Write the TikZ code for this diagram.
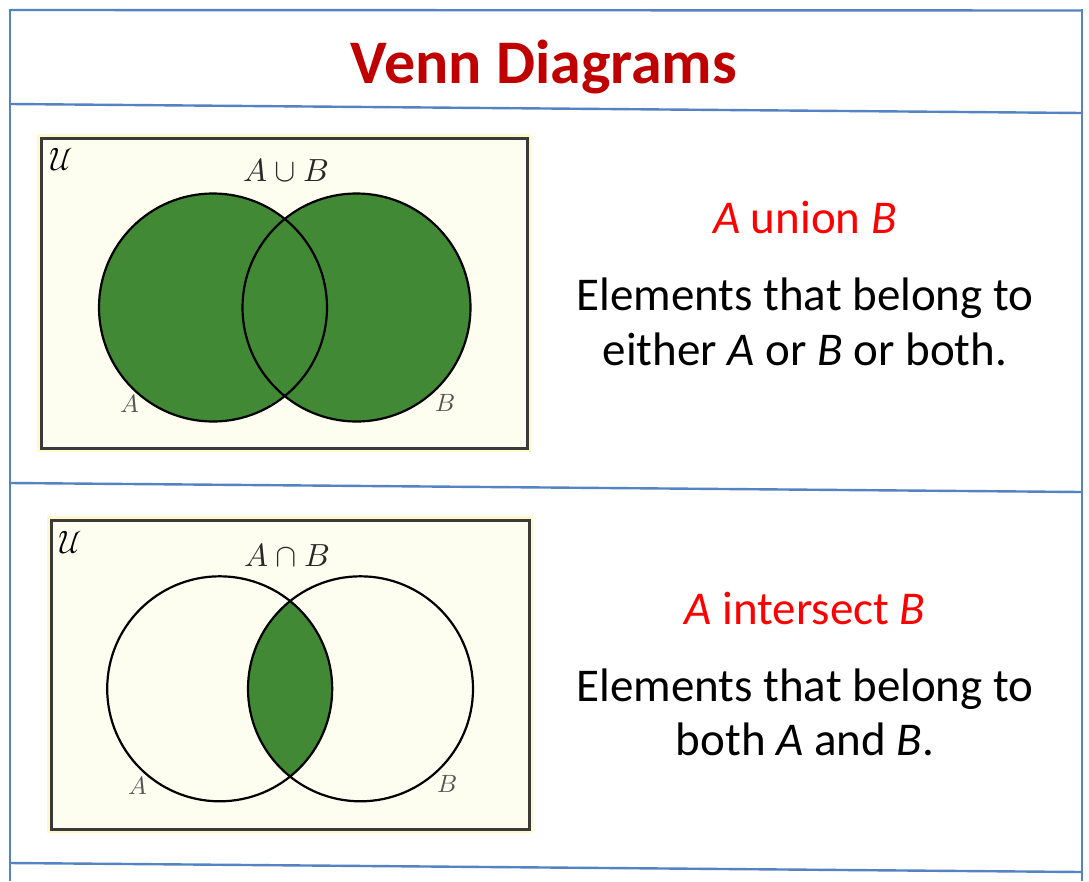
\documentclass[tikz,border=0pt]{standalone}
\usepackage{fontspec}
\setmainfont{Carlito}
\usepackage{unicode-math}
\setmathfont{Latin Modern Math}
\definecolor{frameblue}{RGB}{84,130,194}
\definecolor{titlered}{RGB}{192,0,0}
\definecolor{vgreen}{RGB}{65,137,53}
\definecolor{cream}{RGB}{254,254,240}
\definecolor{glow}{RGB}{255,249,205}
\definecolor{boxedge}{RGB}{58,58,58}
\definecolor{labgray}{RGB}{40,40,40}
\definecolor{setgray}{RGB}{85,85,85}
\tikzset{
  frameline/.style={draw=frameblue, line width=2.4pt},
  universe/.style={draw=boxedge, line width=3pt, fill=cream},
  glowbox/.style={fill=glow},
  setline/.style={draw=black, line width=2.2pt},
  setfill/.style={fill=vgreen},
  headtext/.style={anchor=base, text=titlered, font=\bfseries\fontsize{62}{74}\selectfont, inner sep=0pt},
  redtext/.style={anchor=base, text=red, font=\fontsize{47}{55}\selectfont, inner sep=0pt},
  bodytext/.style={anchor=base, text=black, font=\fontsize{47}{55}\selectfont, inner sep=0pt},
  mathlab/.style={text=labgray, font=\fontsize{32}{36}\selectfont, inner sep=0pt},
  setlab/.style={text=setgray, font=\fontsize{25}{28}\selectfont, inner sep=0pt},
  ulab/.style={text=black, font=\fontsize{32}{34}\selectfont, inner sep=0pt}
}
\begin{document}
\begin{tikzpicture}[x=1pt, y=-1pt]
\useasboundingbox (0,0) rectangle (1089,881);
\fill[white] (0,0) rectangle (1089,881);
% frame
\draw[frameline] (10,10) -- (1082,10.5);
\draw[frameline] (10,104) -- (1082,113);
\draw[frameline] (10,483) -- (1082,492);
\draw[frameline] (10,863) -- (1082,872);
\draw[frameline] (10,9) -- (10,881);
\draw[frameline] (1082,9) -- (1082,881);
% title
\node[headtext] (title) at (544,83) {Venn Diagrams};
% ---------- union diagram ----------
\fill[glowbox] (37,134) rectangle (531,452);
\draw[universe] (41,138) rectangle (527,448);
\fill[setfill] (213,307.5) circle (114);
\fill[setfill] (356.5,307.5) circle (114);
\draw[setline] (213,307.5) circle (114);
\draw[setline] (356.5,307.5) circle (114);
\node[ulab] (u1) at (61,160) {$\mathcal{U}$};
\node[mathlab] (ab1) at (286,170) {$A\cup B$};
\node[setlab] (a1) at (130,404) {$A$};
\node[setlab] (b1) at (445,403) {$B$};
% text
\node[redtext] (t1) at (805,233) {\textit{A} union \textit{B}};
\node[bodytext] (d1a) at (805,310) {Elements that belong to};
\node[bodytext] (d1b) at (805,365) {either \textit{A} or \textit{B} or both.};
% ---------- intersection diagram ----------
\fill[glowbox] (47,516) rectangle (533,833);
\draw[universe] (51,520) rectangle (529,829);
\begin{scope}
  \clip (219.7,688.8) circle (112.5);
  \fill[setfill] (360.5,688.8) circle (112.5);
\end{scope}
\draw[setline] (219.7,688.8) circle (112.5);
\draw[setline] (360.5,688.8) circle (112.5);
\node[ulab] (u2) at (70,543) {$\mathcal{U}$};
\node[mathlab] (ab2) at (287,555) {$A\cap B$};
\node[setlab] (a2) at (138,786) {$A$};
\node[setlab] (b2) at (447,784) {$B$};
\node[redtext] (t2) at (805,624) {\textit{A} intersect \textit{B}};
\node[bodytext] (d2a) at (805,701) {Elements that belong to};
\node[bodytext] (d2b) at (805,755) {both \textit{A} and \textit{B}.};
\end{tikzpicture}
\end{document}
